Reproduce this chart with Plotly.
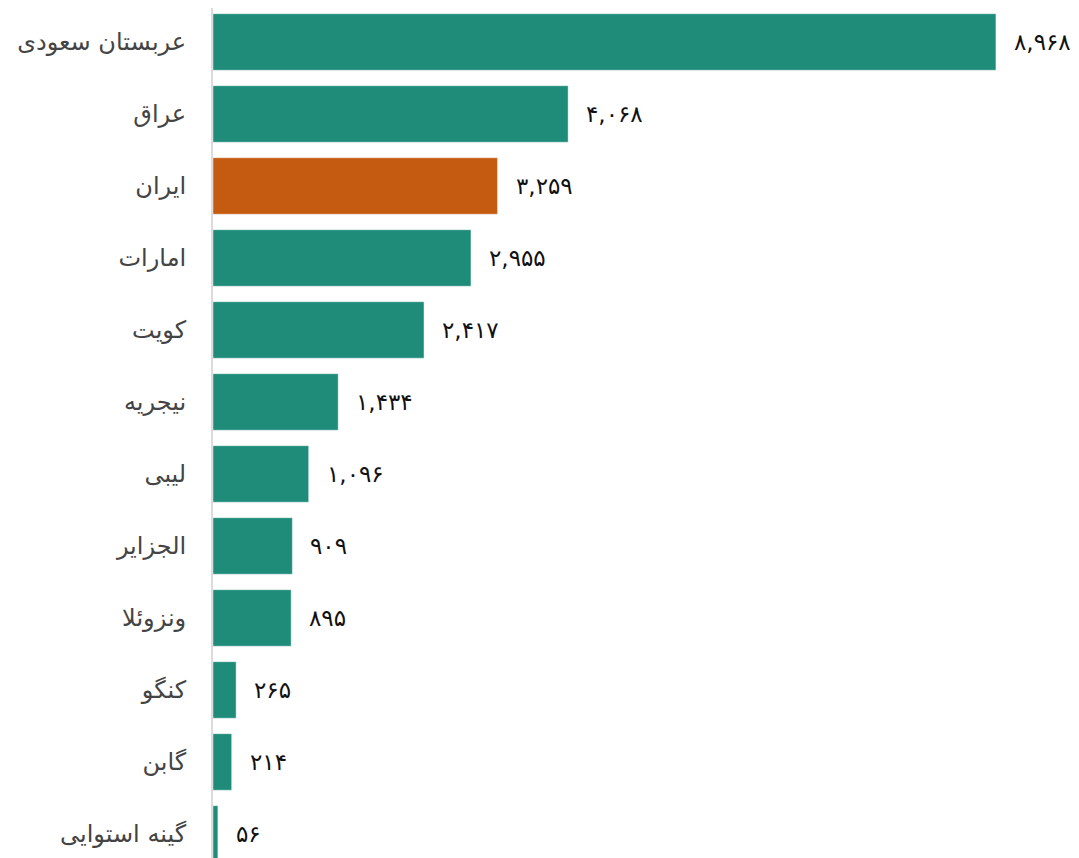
import plotly.graph_objects as go

countries = ["عربستان سعودی", "عراق", "ایران", "امارات", "کویت", "نیجریه",
             "لیبی", "الجزایر", "ونزوئلا", "کنگو", "گابن", "گینه استوایی"]
values = [8968, 4068, 3259, 2955, 2417, 1434, 1096, 909, 895, 265, 214, 56]
highlight = "ایران"

TEAL = "#1e8c78"
ORANGE = "#c55a11"
colors = [ORANGE if c == highlight else TEAL for c in countries]

def fa_digits(n):
    s = f"{n:,}"
    return s.translate(str.maketrans("0123456789", "۰۱۲۳۴۵۶۷۸۹"))

labels = [fa_digits(v) for v in values]
FONT = "DejaVu Sans"

fig = go.Figure()
fig.add_trace(go.Bar(
    x=values, y=countries, orientation="h",
    marker=dict(color=colors, line=dict(color="rgba(255,255,255,0.45)", width=1)),
    hoverinfo="skip",
))
for v, c, t in zip(values, countries, labels):
    fig.add_annotation(x=v, y=c, text=t, showarrow=False, xanchor="left",
                       xshift=16, font=dict(family=FONT, size=23, color="#111"))

fig.update_layout(
    width=1079, height=858,
    margin=dict(l=205, r=0, t=0, b=0, autoexpand=False),
    plot_bgcolor="white", paper_bgcolor="white",
    bargap=0.215, showlegend=False,
    xaxis=dict(range=[0, 10011], visible=False, showgrid=False, zeroline=False,
               automargin=False),
    yaxis=dict(categoryorder="array", categoryarray=countries, automargin=False,
               range=[11.445, -0.472], showline=True, linecolor="#dcdcdc", linewidth=2,
               ticks="", showgrid=False, ticklabelstandoff=20,
               tickfont=dict(family=FONT, size=24, color="#444")),
)
fig.write_html("out.html")
